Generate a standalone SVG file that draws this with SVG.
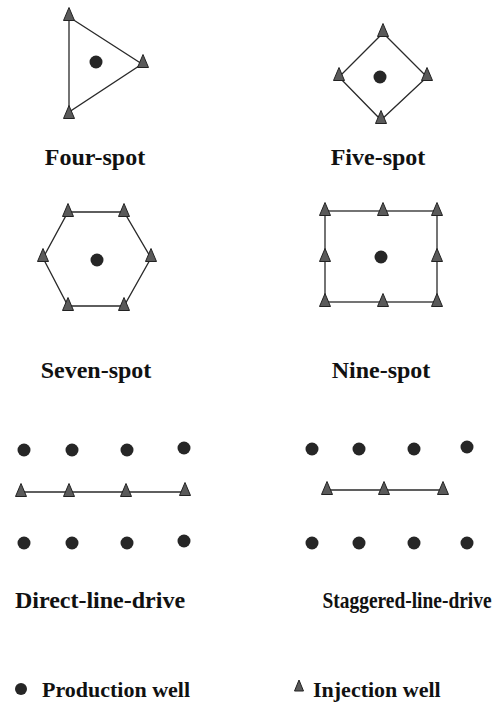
<svg xmlns="http://www.w3.org/2000/svg" width="497" height="706" viewBox="0 0 497 706">
<style>
.ln{fill:none;stroke:#2a2a2a;stroke-width:1.3}
.pw{fill:#262626}
.lbl{font-family:"Liberation Serif","Times New Roman",serif;font-weight:bold;font-size:24px;fill:#111;text-anchor:middle}
.lg{font-family:"Liberation Serif","Times New Roman",serif;font-weight:bold;font-size:22px;fill:#111}
</style>
<defs>
<path id="inj" d="M0,-7.5 L5.5,5.5 L-5.5,5.5 Z" fill="#5a5a5a" stroke="#222" stroke-width="1"/>
<circle id="prod" r="6.5" class="pw"/>
</defs>
<rect width="497" height="706" fill="#fff"/>

<g id="connectors">
<polygon class="ln" points="69,17 142,64 69,112"/>
<polygon class="ln" points="383,33 427,77 381,120 339,77"/>
<polygon class="ln" points="68,212 124,212 151,258 124,306 68,306 43,258"/>
<rect class="ln" x="325" y="211" width="112" height="91"/>
<line class="ln" x1="21" y1="492" x2="185" y2="492"/>
<line class="ln" x1="327" y1="490" x2="443" y2="490"/>
</g>

<g id="four-spot">
<use href="#inj" x="69" y="15"/>
<use href="#inj" x="143" y="62"/>
<use href="#inj" x="69" y="113"/>
<use href="#prod" x="96" y="62"/>
<text class="lbl" x="95" y="165">Four-spot</text>
</g>

<g id="five-spot">
<use href="#inj" x="383" y="31"/>
<use href="#inj" x="427" y="75"/>
<use href="#inj" x="381" y="118"/>
<use href="#inj" x="339" y="75"/>
<use href="#prod" x="380" y="77"/>
<text class="lbl" x="378" y="165">Five-spot</text>
</g>

<g id="seven-spot">
<use href="#inj" x="68" y="211"/>
<use href="#inj" x="124" y="211"/>
<use href="#inj" x="43" y="256"/>
<use href="#inj" x="151" y="256"/>
<use href="#inj" x="68" y="305"/>
<use href="#inj" x="124" y="305"/>
<use href="#prod" x="97" y="260"/>
<text class="lbl" x="96" y="378">Seven-spot</text>
</g>

<g id="nine-spot">
<use href="#inj" x="325" y="210"/>
<use href="#inj" x="383" y="210"/>
<use href="#inj" x="437" y="210"/>
<use href="#inj" x="325" y="256"/>
<use href="#inj" x="437" y="256"/>
<use href="#inj" x="325" y="301"/>
<use href="#inj" x="383" y="301"/>
<use href="#inj" x="437" y="301"/>
<use href="#prod" x="381" y="257"/>
<text class="lbl" x="381" y="378">Nine-spot</text>
</g>

<g id="direct-line-drive">
<use href="#prod" x="24" y="450"/>
<use href="#prod" x="72" y="450"/>
<use href="#prod" x="127" y="450"/>
<use href="#prod" x="184" y="448"/>
<use href="#inj" x="21" y="491"/>
<use href="#inj" x="69" y="491"/>
<use href="#inj" x="126" y="491"/>
<use href="#inj" x="185" y="490"/>
<use href="#prod" x="24" y="543"/>
<use href="#prod" x="72" y="543"/>
<use href="#prod" x="127" y="543"/>
<use href="#prod" x="184" y="541"/>
<text class="lbl" x="100" y="608">Direct-line-drive</text>
</g>

<g id="staggered-line-drive">
<use href="#prod" x="312" y="449"/>
<use href="#prod" x="359" y="449"/>
<use href="#prod" x="414" y="449"/>
<use href="#prod" x="467" y="447"/>
<use href="#inj" x="327" y="489"/>
<use href="#inj" x="384" y="489"/>
<use href="#inj" x="443" y="489"/>
<use href="#prod" x="312" y="543"/>
<use href="#prod" x="359" y="543"/>
<use href="#prod" x="414" y="543"/>
<use href="#prod" x="467" y="543"/>
<text class="lbl" transform="translate(407,608) scale(0.81,1)" x="0" y="0">Staggered-line-drive</text>
</g>

<g id="legend">
<circle cx="21" cy="689" r="6" class="pw"/>
<text class="lg" x="42" y="697">Production well</text>
<path d="M299,680 L303.5,691 L294.5,691 Z" fill="#5a5a5a" stroke="#222" stroke-width="1"/>
<text class="lg" x="313" y="697">Injection well</text>
</g>
</svg>
